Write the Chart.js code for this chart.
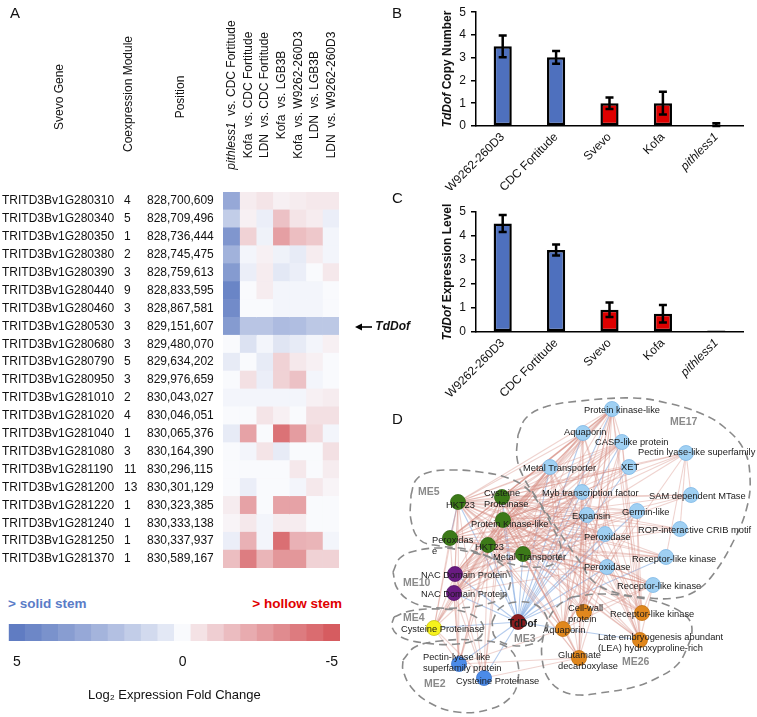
<!DOCTYPE html>
<html><head><meta charset="utf-8">
<script src="https://cdn.jsdelivr.net/npm/chart.js@4.4.1/dist/chart.umd.min.js"></script>
<style>
html,body{margin:0;padding:0;background:#fff}
body{position:relative;width:757px;height:717px;overflow:hidden;font-family:"Liberation Sans",Arial,Helvetica,sans-serif;color:#111}
canvas{position:absolute}
.t{position:absolute;white-space:nowrap;line-height:1}
.rot{transform:translate(-50%,-50%) rotate(-90deg)}
</style></head>
<body>
<canvas id="heat" width="380" height="590" style="left:0px;top:0px"></canvas>
<canvas id="cbar" width="380" height="105" style="left:0px;top:612px"></canvas>
<canvas id="copy" width="377" height="190" style="left:380px;top:0px"></canvas>
<canvas id="expr" width="377" height="210" style="left:380px;top:190px"></canvas>
<canvas id="net" width="377" height="322" style="left:380px;top:395px"></canvas>
<div id="overlay"></div>
<script>
// ================= PANEL A DATA =================
const genes = ['TRITD3Bv1G280310','TRITD3Bv1G280340','TRITD3Bv1G280350','TRITD3Bv1G280380','TRITD3Bv1G280390','TRITD3Bv1G280440','TRITD3Bv1G280460','TRITD3Bv1G280530','TRITD3Bv1G280680','TRITD3Bv1G280790','TRITD3Bv1G280950','TRITD3Bv1G281010','TRITD3Bv1G281020','TRITD3Bv1G281040','TRITD3Bv1G281080','TRITD3Bv1G281190','TRITD3Bv1G281200','TRITD3Bv1G281220','TRITD3Bv1G281240','TRITD3Bv1G281250','TRITD3Bv1G281370'];
const modules = ['4','5','1','2','3','9','3','3','3','5','3','2','4','1','3','11','13','1','1','1','1'];
const positions = ['828,700,609','828,709,496','828,736,444','828,745,475','828,759,613','828,833,595','828,867,581','829,151,607','829,480,070','829,634,202','829,976,659','830,043,027','830,046,051','830,065,376','830,164,390','830,296,115','830,301,129','830,323,385','830,333,138','830,337,937','830,589,167'];
const comparisons = ['pithless1  vs. CDC Fortitude','Kofa  vs. CDC Fortitude','LDN  vs. CDC Fortitude','Kofa  vs. LGB3B','Kofa  vs. W9262-260D3','LDN  vs. LGB3B','LDN  vs. W9262-260D3'];
// log2 fold change, one array per comparison (rows follow `genes`)
const fc_pithless1_CDC = [3.0,1.5,3.8,2.6,3.6,4.6,4.3,3.6,0,0.4,0,0.1,0,0.4,0,0,0,-0.3,-0.1,0.3,-1.6];
const fc_Kofa_CDC      = [-0.3,-0.2,-1.0,0.1,0.3,0,0,1.8,0.7,0,-0.6,0.1,0,-2.5,0.1,0,0.3,-2.5,-0.4,-2.0,-3.8];
const fc_LDN_CDC       = [-0.5,0.3,0.2,-0.2,-0.3,-0.3,0,1.8,0.1,0.4,0.3,0.1,-0.5,0,-0.5,0,0,0,0.1,0.1,-1.9];
const fc_Kofa_LGB3B    = [-0.2,-1.5,-2.6,0.2,0.5,0.1,0.1,2.2,0.6,-1.0,-1.0,0.1,-0.2,-4.2,0.4,0,0,-2.5,-0.3,-4.3,-2.9];
const fc_Kofa_W9262    = [-0.3,-0.5,-1.6,0.4,0.3,0.1,0.1,2.1,0.4,-0.4,-1.5,0.1,0,-2.7,0,-0.4,0.1,-2.5,-0.3,-2.0,-2.9];
const fc_LDN_LGB3B     = [-0.4,-0.3,-1.3,-0.3,0,0.1,0.1,1.7,0.1,-0.2,0.1,-0.2,-0.6,-0.8,0,0,-0.4,0,0,-1.9,-1.0];
const fc_LDN_W9262     = [-0.4,0.3,0.1,0.1,-0.4,0,0,1.7,-0.2,0,0,-0.3,-0.6,0.1,-0.6,-0.3,-0.1,0,0,0.1,-1.0];
const fcColumns = [fc_pithless1_CDC, fc_Kofa_CDC, fc_LDN_CDC, fc_Kofa_LGB3B, fc_Kofa_W9262, fc_LDN_LGB3B, fc_LDN_W9262];
const highlightGene = 'TRITD3Bv1G280530';
// colour key steps (left to right) and its tick labels
const colorbarSteps = [5,4.5,4,3.5,3,2.5,2,1.5,1,0.5,0,-0.55,-1.1,-1.65,-2.2,-2.75,-3.3,-3.85,-4.4,-5];
const colorbarTicks = ['5','','','','','','','','','','0','','','','','','','','','-5'];

// ================= PANEL B / C DATA =================
const genotypes = ['W9262-260D3','CDC Fortitude','Svevo','Kofa','pithless1'];
const stemType = ['solid','solid','hollow','hollow','hollow'];
const copyNumber = [3.5, 3.02, 1.0, 1.0, 0];
const copyNumberErr = [0.48, 0.28, 0.25, 0.5, 0.12];
const exprLevel = [4.52, 3.42, 0.93, 0.76, 0.06];
const exprLevelErr = [0.35, 0.23, 0.3, 0.36, 0];

// ================= PANEL D DATA =================
const nodeNames = ['Protein kinase-like','Aquaporin','CASP-like protein','Pectin lyase-like superfamily','Metal Transporter','XET','Myb transcription factor','SAM dependent MTase','Expansin','Germin-like','ROP-interactive CRIB motif','Peroxidase','Peroxidase','Receptor-like kinase','Receptor-like kinase','HKT23','Cysteine|Proteinase','Protein Kinase-like','Peroxidas|e','HKT23','Metal Transporter','NAC Domain Protein','NAC Domain Protein','Cysteine Proteinase','TdDof','Cell-wall|protein','Aquaporin','Receptor-like kinase','Late embryogenesis abundant|(LEA) hydroxyproline-rich','Glutamate|decarboxylase','Pectin-lyase like|superfamily protein','Cysteine Proteinase'];
const nodeModule = ['ME17','ME17','ME17','ME17','ME17','ME17','ME17','ME17','ME17','ME17','ME17','ME17','ME17','ME17','ME17','ME5','ME5','ME5','ME5','ME5','ME5','ME10','ME10','ME4','ME3','ME26','ME26','ME26','ME26','ME26','ME2','ME2'];
const nodeX = [612,583,622,686,550,629,582,691,587,637,680,605,607,666,653,458,502,503,450,488,523,455,454,434,518,584,563,642,640,579,459,484];
const nodeY = [409,433,442,453,467,467,492,495,515,511,529,534,567,557,585,502,497,520,538,545,554,574,593,628,622,612,629,613,640,658,664,678];
// co-expression edges: [from, [to...]]
const pinkEdges = [
  [15,[0,1,2,3,4,5,6,7,8,9,10,11,12,13,14,16,17,18,19,20]],
  [16,[0,1,2,3,4,5,6,7,8,9,10,11,12,13,14,17,18,19,20]],
  [17,[0,1,2,3,4,5,6,7,8,9,10,11,12,13,14,18,19,20]],
  [18,[0,1,2,4,6,8,9,11,12,13,14,19,20]],
  [19,[0,1,2,3,4,5,6,7,8,9,10,11,12,13,14,20]],
  [20,[0,1,2,3,4,5,6,7,8,9,10,11,12,13,14]],
  [21,[0,1,2,4,6,8,11,12,15,16,17,19,20]],
  [22,[0,1,2,4,6,8,11,12,15,16,17,19,20]],
  [23,[4,6,15,16,17,18,19,21,22]],
  [30,[15,16,17,18,19,21,22,23,26,29]],
  [31,[15,16,17,19,21,22,23,29]],
  [25,[0,1,2,4,6,8,9,12,14,15,16,17]],
  [26,[0,1,2,3,4,6,8,9,12,14,15,16,17,19,20]],
  [27,[0,1,2,4,6,9,12,14,15,16,17,19]],
  [28,[0,1,2,4,6,8,9,12,14,15,16,17,20]],
  [29,[0,1,4,6,8,12,15,16,17,19,20]],
  [0,[1,2,4,6,8,11]],
  [3,[7,10,13]]
];
const blueEdges = [
  [24,[0,1,2,4,5,6,8,9,11,12,13,15,16,17,19,20,21,22,23,26,30,31]],
  [26,[28]],
  [15,[18]]
];
const moduleNames = ['ME17','ME5','ME10','ME4','ME3','ME2','ME26'];
const moduleHulls = [
  [[518,435],[526,418],[545,407],[580,401],[634,398],[667,403],[700,413],[724,427],[744,450],[750,477],[747,507],[734,540],[712,576],[694,592],[675,598],[650,598],[617,593],[594,582],[580,562],[568,545],[554,524],[538,500],[524,478],[517,458]],
  [[411,495],[416,480],[430,472],[455,470],[480,472],[505,477],[525,487],[540,505],[553,528],[561,548],[556,562],[540,567],[515,565],[490,557],[465,549],[440,546],[420,540],[411,520]],
  [[393,572],[400,558],[415,551],[440,548],[470,552],[495,560],[508,572],[510,585],[503,597],[483,605],[457,608],[430,607],[410,601],[397,588]],
  [[394,617],[410,611],[440,609],[468,613],[483,625],[479,638],[457,644],[425,643],[401,637],[392,627]],
  [[492,622],[500,608],[517,602],[536,605],[547,618],[545,634],[532,644],[510,645],[495,637]],
  [[403,660],[415,647],[440,641],[473,640],[503,645],[516,658],[518,680],[510,698],[487,710],[457,712],[430,703],[411,687],[403,670]],
  [[572,597],[600,594],[634,597],[667,605],[687,617],[692,630],[687,648],[677,665],[657,678],[634,687],[600,693],[580,695],[562,691],[548,678],[542,658],[543,638],[550,616],[560,604]]
];

// ================= STYLE / LAYOUT (not data) =================
Chart.defaults.font.family = '"Liberation Sans", Arial, Helvetica, sans-serif';
Chart.defaults.color = '#111';
const BLUE = 'rgb(78,112,190)', RED = 'rgb(222,0,0)';
const moduleColor = {ME17:'#9fd0f3', ME5:'#3c7a18', ME10:'#6a1b82', ME4:'#f6f21d', ME3:'#8c1c1e', ME26:'#e0871d', ME2:'#4b8be9'};
const moduleBorder = {ME17:'#7fb7e6', ME5:'#2f6612', ME10:'#561468', ME4:'#c9c410', ME3:'#6e1214', ME26:'#c06f10', ME2:'#3a72c9'};
const nodeLabelPos = [[584,410],[564,432],[595,442],[638,452],[523,468],[621,467],[542,493],[649,496],[572,516],[622,512],[638,530],[584,537],[584,567],[632,559],[617,586],[446,505],[484,493],[471,524],[432,540],[475,547],[493,557],[421,575],[421,594],[401,629],[508,624],[568,608],[543,630],[610,614],[598,637],[558,655],[423,657],[456,681]];
const moduleLabelPos = [[670,422],[418,492],[403,583],[403,618],[514,639],[424,684],[622,662]];

function fcColor(v){
  const t = Math.pow(Math.min(Math.abs(v)/5,1), 0.85);
  const base = [249,250,253];
  const end = v >= 0 ? [96,124,194] : [214,92,96];
  const c = end.map((e, k) => Math.round(base[k] + (e-base[k])*t));
  return 'rgb(' + c.join(',') + ')';
}
const noLegend = {legend:{display:false}, tooltip:{enabled:false}};

// ================= PANEL A: heatmap =================
const labelAxis = (labels, weight, width) => {
  const ax = {
    type:'category', position:'left', weight: weight, offset:true,
    grid:{display:false, drawTicks:false}, border:{display:false},
    ticks:{crossAlign:'far', autoSkip:false, padding:0, font:{size:12}, color:'#111'},
    afterFit: s => { s.width = width; }
  };
  if (labels) ax.labels = labels;
  return ax;
};
const heatDatasets = fcColumns.map((col, c) => ({
  data: col.map(() => [c, c + 1]),
  backgroundColor: col.map(fcColor),
  borderWidth: 0, barPercentage: 1, categoryPercentage: 1, grouped: false,
  xAxisID:'x', yAxisID:'y'
}));
const heat = new Chart(document.getElementById('heat'), {
  type:'bar',
  data:{labels: genes, datasets: heatDatasets},
  options:{
    indexAxis:'y', responsive:false, animation:false,
    layout:{padding:{top:192, right:41, bottom:22, left:2}},
    plugins: noLegend,
    scales:{
      x:{type:'linear', min:0, max:7, display:false},
      y: labelAxis(null, 2, 122),
      yMod: labelAxis(modules, 1, 23),
      yPos: labelAxis(positions, 0, 76)
    }
  }
});

// colour key
new Chart(document.getElementById('cbar'), {
  type:'bar',
  data:{labels: colorbarTicks, datasets:[{data: colorbarSteps.map(() => 1), backgroundColor: colorbarSteps.map(fcColor), borderWidth:0, barPercentage:1, categoryPercentage:1}]},
  options:{
    responsive:false, animation:false,
    layout:{padding:{left:3, right:40, top:12, bottom:0}},
    plugins: noLegend,
    scales:{
      y:{display:false, min:0, max:1},
      x:{grid:{display:false, drawTicks:false}, border:{display:false},
         ticks:{autoSkip:false, maxRotation:0, minRotation:0, padding:13, font:{size:14}, color:'#111'},
         title:{display:true, text:'Log\u2082 Expression Fold Change', font:{size:13}, color:'#111', padding:{top:0, bottom:14}},
         afterFit: s => { s.height = 76; }}
    }
  }
});

// ================= PANELS B & C =================
const errorBarPlugin = {
  id:'errorBars',
  afterDatasetsDraw(chart){
    const ctx = chart.ctx, ys = chart.scales.y;
    chart.data.datasets.forEach((ds, di) => {
      if (!ds.errorBars) return;
      chart.getDatasetMeta(di).data.forEach((bar, i) => {
        const v = ds.data[i], e = ds.errorBars[i];
        if (!e) return;
        const yTop = ys.getPixelForValue(v + e), yBot = ys.getPixelForValue(Math.max(0, v - e));
        ctx.save(); ctx.strokeStyle = '#000'; ctx.lineWidth = 2.5;
        ctx.beginPath();
        ctx.moveTo(bar.x, yTop); ctx.lineTo(bar.x, yBot);
        ctx.moveTo(bar.x - 4, yTop); ctx.lineTo(bar.x + 4, yTop);
        ctx.moveTo(bar.x - 4, yBot); ctx.lineTo(bar.x + 4, yBot);
        ctx.stroke(); ctx.restore();
      });
    });
  }
};
function barChart(id, values, errors, topPad, xHeight){
  return new Chart(document.getElementById(id), {
    type:'bar',
    data:{labels: genotypes, datasets:[{
      data: values, errorBars: errors,
      backgroundColor: stemType.map(s => s === 'solid' ? BLUE : RED),
      borderColor:'#000', borderWidth:2.5, borderSkipped:false,
      barPercentage:0.34, categoryPercentage:1
    }]},
    options:{
      responsive:false, animation:false,
      layout:{padding:{left:76, right:14, top:topPad, bottom:0}},
      plugins: noLegend,
      scales:{
        x:{grid:{display:false, drawTicks:false}, border:{display:true, color:'#000', width:1.5},
           ticks:{autoSkip:false, minRotation:45, maxRotation:45, padding:4, color:'#111',
                  font: c => ({size:12, style: genotypes[c.index] === 'pithless1' ? 'italic' : 'normal'})},
           afterFit: s => { s.height = xHeight; }},
        y:{min:0, max:5, ticks:{stepSize:1, padding:5, font:{size:12}, color:'#111'},
           grid:{display:true, drawOnChartArea:false, drawTicks:true, tickLength:5, color:'#000', lineWidth:1.5},
           border:{display:true, color:'#000', width:1.5},
           afterFit: s => { s.width = 20; }}
      }
    },
    plugins:[errorBarPlugin]
  });
}
const copyChart = barChart('copy', copyNumber, copyNumberErr, 6, 64);
const exprChart = barChart('expr', exprLevel, exprLevelErr, 22, 68);

// ================= PANEL D: network =================
const netDatasets = [];
netDatasets.push({
  type:'scatter', order:0,
  data: nodeX.map((x, i) => ({x: x, y: nodeY[i]})),
  pointRadius:7.5, pointHoverRadius:7.5, pointBorderWidth:0.8,
  backgroundColor: nodeModule.map(m => moduleColor[m]),
  borderColor: nodeModule.map(m => moduleBorder[m])
});
moduleHulls.forEach(h => {
  const pts = h.concat([h[0]]).map(p => ({x:p[0], y:p[1]}));
  netDatasets.push({type:'line', order:1, data: pts, borderColor:'#8a8a8a', borderWidth:1.6, borderDash:[8,5], pointRadius:0, fill:false, tension:0.4});
});
function pushEdges(list, color){
  list.forEach(([a, tos]) => tos.forEach(b => {
    netDatasets.push({type:'line', order:2, data:[{x:nodeX[a], y:nodeY[a]}, {x:nodeX[b], y:nodeY[b]}], borderColor: color, borderWidth:1.1, pointRadius:0, fill:false, tension:0});
  }));
}
pushEdges(pinkEdges, 'rgba(212,140,130,0.38)');
pushEdges(blueEdges, 'rgba(130,170,225,0.6)');

const netLabelPlugin = {
  id:'netLabels',
  afterDatasetsDraw(chart){
    const {ctx, scales:{x, y}} = chart;
    ctx.save();
    ctx.textAlign = 'left'; ctx.textBaseline = 'middle';
    nodeNames.forEach((name, i) => {
      const bold = name === 'TdDof';
      ctx.font = (bold ? 'bold 10px ' : '9.3px ') + '"Liberation Sans", Arial, sans-serif';
      ctx.fillStyle = '#1a1a1a';
      name.split('|').forEach((ln, k) => {
        ctx.fillText(ln, x.getPixelForValue(nodeLabelPos[i][0]), y.getPixelForValue(nodeLabelPos[i][1] + k * 11));
      });
    });
    ctx.font = 'bold 10.5px "Liberation Sans", Arial, sans-serif';
    ctx.fillStyle = '#8a8a8a';
    moduleNames.forEach((m, i) => ctx.fillText(m, x.getPixelForValue(moduleLabelPos[i][0]), y.getPixelForValue(moduleLabelPos[i][1])));
    ctx.restore();
  }
};
new Chart(document.getElementById('net'), {
  type:'scatter',
  data:{datasets: netDatasets},
  options:{
    responsive:false, animation:false,
    layout:{padding:0, autoPadding:false},
    plugins: noLegend,
    events: [],
    scales:{
      x:{type:'linear', min:380, max:757, display:false},
      y:{type:'linear', min:395, max:717, reverse:true, display:false}
    }
  },
  plugins:[netLabelPlugin]
});

// ================= HTML text overlays =================
const ov = document.getElementById('overlay');
function addText(html, style, cls){
  const d = document.createElement('div');
  d.className = 't ' + (cls || '');
  d.innerHTML = html;
  Object.assign(d.style, style);
  ov.appendChild(d);
  return d;
}
// panel letters
addText('A', {left:'10px', top:'5px', fontSize:'15px'});
addText('B', {left:'392px', top:'5px', fontSize:'15px'});
addText('C', {left:'392px', top:'190px', fontSize:'15px'});
addText('D', {left:'392px', top:'411px', fontSize:'15px'});
// table headers
addText('Svevo Gene', {left:'59px', top:'97px', fontSize:'12px'}, 'rot');
addText('Coexpression Module', {left:'128px', top:'94px', fontSize:'12px'}, 'rot');
addText('Position', {left:'180px', top:'97px', fontSize:'12px'}, 'rot');
comparisons.forEach((c, i) => {
  const html = c.replace('pithless1', '<i>pithless1</i>').replace(/  /g, '&nbsp; ');
  addText(html, {left: heat.scales.x.getPixelForValue(i + 0.5) + 'px', top:'95px', fontSize:'12px'}, 'rot');
});
// arrow to TdDof row
const yTd = heat.scales.y.getPixelForValue(genes.indexOf(highlightGene));
addText('<svg width="17" height="10" style="vertical-align:middle"><line x1="5" y1="5" x2="17" y2="5" stroke="#000" stroke-width="1.6"/><polygon points="0,5 7,1.5 7,8.5" fill="#000"/></svg> <b><i>TdDof</i></b>',
  {left:'355px', top:(yTd - 6) + 'px', fontSize:'12px'});
// colour key captions
addText('&gt; solid stem', {left:'8px', top:'597px', fontSize:'13.5px', fontWeight:'bold', color:'#5b7cc7'});
addText('&gt; hollow stem', {right:'415px', top:'597px', fontSize:'13.5px', fontWeight:'bold', color:'#e10000'});
// y-axis titles for B and C
const midB = (copyChart.chartArea.top + copyChart.chartArea.bottom) / 2;
const midC = (exprChart.chartArea.top + exprChart.chartArea.bottom) / 2 + 190;
addText('<b><i>TdDof</i> Copy Number</b>', {left:'447px', top: midB + 'px', fontSize:'12px'}, 'rot');
addText('<b><i>TdDof</i> Expression Level</b>', {left:'447px', top: midC + 'px', fontSize:'12px'}, 'rot');
</script>
</body></html>
